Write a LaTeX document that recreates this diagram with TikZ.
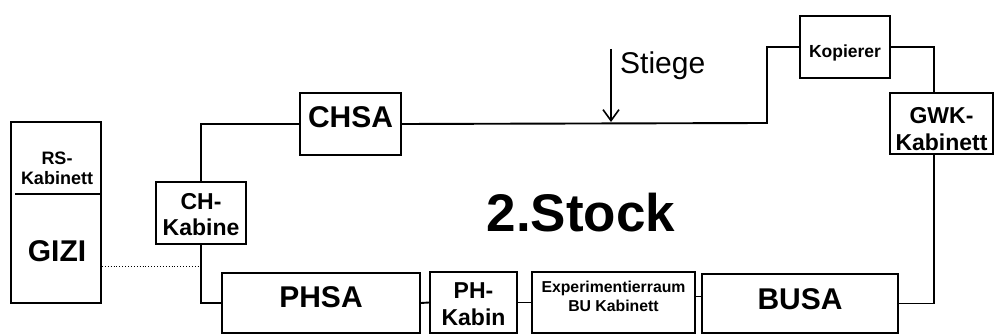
\documentclass[tikz,border=0pt]{standalone}
\usepackage{fontspec}
\setmainfont{Liberation Sans}
\usetikzlibrary{arrows.meta}
\newcommand\myfs[2]{\fontsize{#1}{#2}\selectfont}
\begin{document}
\begin{tikzpicture}[x=1pt,y=-1pt,
  room/.style={draw,line width=1.9pt,inner sep=0pt},
  wall/.style={line width=1.9pt},
  lbl/.style={font=\bfseries,align=center,inner sep=0pt},
]
\useasboundingbox (0,0) rectangle (995,336);
\fill[white] (0,0) rectangle (995,336);

% rooms
\node[room,minimum width=90pt,minimum height=181pt] (gizi) at (56,212.5) {};
\node[room,minimum width=90pt,minimum height=62pt] (chk) at (201,213) {};
\node[room,minimum width=101pt,minimum height=62pt] (chsa) at (350.5,124) {};
\node[room,minimum width=90pt,minimum height=62pt] (kop) at (845,47) {};
\node[room,minimum width=103pt,minimum height=61pt] (gwk) at (941.5,123.5) {};
\node[room,minimum width=198pt,minimum height=60pt] (phsa) at (321,303) {};
\node[room,minimum width=87pt,minimum height=61pt] (phk) at (473.5,302.5) {};
\node[room,minimum width=163pt,minimum height=61pt] (exp) at (613.5,302.5) {};
\node[room,minimum width=196pt,minimum height=59pt] (busa) at (800,303.5) {};

% labels
\node[lbl,font=\bfseries\myfs{18}{20}] (rs-t) at (57,168) {RS-\\Kabinett};
\node[lbl,font=\bfseries\myfs{30}{32}] (gizi-t) at (57,251) {GIZI};
\node[lbl,font=\bfseries\myfs{23}{26}] (chk-t) at (201,215) {CH-\\Kabine};
\node[lbl,font=\bfseries\myfs{30}{32}] (chsa-t) at (350.5,117) {CHSA};
\node[lbl,font=\bfseries\myfs{17.5}{20}] (kop-t) at (845,53) {Kopierer};
\node[lbl,font=\bfseries\myfs{23}{27}] (gwk-t) at (941.5,129) {GWK-\\Kabinett};
\node[lbl,font=\bfseries\myfs{30}{32}] (phsa-t) at (321,297) {PHSA};
\node[lbl,font=\bfseries\myfs{23}{27}] (phk-t) at (473.5,304) {PH-\\Kabin};
\node[lbl,font=\bfseries\myfs{15.8}{19}] (exp-t) at (613.5,296) {Experimentierraum\\BU Kabinett};
\node[lbl,font=\bfseries\myfs{30}{32}] (busa-t) at (800,299) {BUSA};
\node[lbl,font=\bfseries\myfs{53}{56},anchor=base] (stock) at (581,232) {2.Stock};
\node[inner sep=0pt,font=\myfs{30}{32},anchor=base west] (stiege) at (620,74) {Stiege};

% divider in GIZI block
\coordinate (d1) at (15,194);
\coordinate (d2) at (102,194);
\draw[wall] (d1) -- (d2);

% corridor walls
\coordinate (g1) at (934,93);
\coordinate (g2) at (934,154);
\coordinate (c1) at (201,266);
\draw[wall] (chk.north) |- (chsa.west);
\draw[wall] (chk.south) |- (phsa.west);
\draw[wall] (chsa.east) -- (767,123) |- (kop.west);
\draw[wall] (kop.east) -| (g1);
\draw[wall] (g2) |- (busa.east);
\draw[wall] (phsa.east) -- (phk.west);
\draw[wall] (phk.east) -- (exp.west);
\draw[wall] ([yshift=6pt]exp.east) -- ([yshift=6pt]exp.east -| busa.west);

% dotted link
\draw[line width=0.9pt,dotted] (gizi.east |- c1) -- (c1);

% stairs arrow
\coordinate (s1) at (611,49);
\coordinate (s2) at (611,122);
\draw[line width=1.6pt,-{Straight Barb[length=11pt,width=16pt,line width=1.6pt]}] (s1) -- (s2);
\end{tikzpicture}
\end{document}
